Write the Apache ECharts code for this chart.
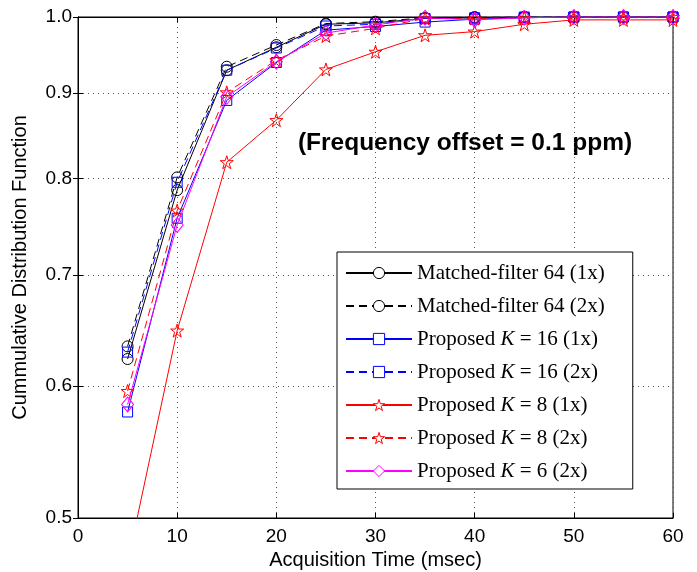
<!DOCTYPE html>
<html>
<head>
<meta charset="utf-8">
<script src="https://cdn.jsdelivr.net/npm/echarts@6/dist/echarts.min.js"></script>
<style>html,body{margin:0;padding:0;background:#fff}#c{width:697px;height:572px}</style>
</head>
<body>
<div id="c"></div>
<script>
var times = [5, 10, 15, 20, 25, 30, 35, 40, 45, 50, 55, 60];
var mf64_1x = [0.623, 0.787, 0.929, 0.959, 0.990, 0.992, 0.998, 0.999, 1.0, 1.0, 1.0, 1.0];
var mf64_2x = [0.634, 0.801, 0.9335, 0.962, 0.991, 0.9935, 0.999, 1.0, 1.0, 1.0, 1.0, 1.0];
var k16_1x = [0.579, 0.757, 0.891, 0.939, 0.982, 0.987, 0.993, 0.997, 0.999, 1.0, 1.0, 1.0];
var k16_2x = [0.629, 0.7956, 0.929, 0.958, 0.9876, 0.990, 0.998, 0.999, 1.0, 1.0, 1.0, 1.0];
var k8_1x = [0.47, 0.648, 0.818, 0.867, 0.930, 0.953, 0.975, 0.980, 0.990, 0.996, 0.996, 0.996];
var k8_2x = [0.596, 0.765, 0.901, 0.942, 0.974, 0.9845, 0.998, 0.998, 0.999, 1.0, 1.0, 1.0];
var k6_2x = [0.585, 0.750, 0.8955, 0.940, 0.978, 0.989, 0.999, 0.996, 0.999, 1.0, 1.0, 1.0];
var yTicks = [0.5, 0.6, 0.7, 0.8, 0.9, 1.0];
var xTicks = [0, 10, 20, 30, 40, 50, 60];
var seriesNames = ['Matched-filter 64 (1x)', 'Matched-filter 64 (2x)', 'Proposed K = 16 (1x)', 'Proposed K = 16 (2x)', 'Proposed K = 8 (1x)', 'Proposed K = 8 (2x)', 'Proposed K = 6 (2x)'];
var titleText = '(Frequency offset = 0.1 ppm)';

var STAR = 'path://M50,2 L61.2,36.6 L97.6,36.6 L68.2,58 L79.4,92.6 L50,71.2 L20.6,92.6 L31.8,58 L2.4,36.6 L38.8,36.6 Z';
function pairs(ys){ return times.map(function(t,i){ return [t, ys[i]]; }); }
var defs = [
  {d: mf64_1x, c:'#000000', dash:'solid', sym:'circle', size:11},
  {d: mf64_2x, c:'#000000', dash:[8,5], sym:'circle', size:11},
  {d: k16_1x, c:'#0000ff', dash:'solid', sym:'rect', size:10},
  {d: k16_2x, c:'#0000ff', dash:[8,5], sym:'rect', size:10},
  {d: k8_1x, c:'#ff0000', dash:'solid', sym:STAR, size:13},
  {d: k8_2x, c:'#ff0000', dash:[8,5], sym:STAR, size:13},
  {d: k6_2x, c:'#ff00ff', dash:'solid', sym:'diamond', size:[12,15]}
];
var series = defs.map(function(s, i){
  return {
    name: seriesNames[i], type:'line', data: pairs(s.d),
    symbol: s.sym, symbolSize: s.size, showSymbol:true,
    lineStyle:{color:s.c, width:1, type:s.dash},
    itemStyle:{color:'rgba(255,255,255,0)', borderColor:s.c, borderWidth:1},
    clip:true, animation:false, z: 2 + i
  };
});
var legendData = seriesNames.map(function(n, i){
  return {name:n, itemStyle:{color:'#ffffff', borderColor:defs[i].c, borderWidth:1}};
});
var FONT = 'Liberation Sans, Arial, Helvetica, sans-serif';
var SERIF = 'Liberation Serif, Times New Roman, serif';
var gridLine = {show:true, lineStyle:{color:'#555', width:1, type:[1,4]}};
var chart = echarts.init(document.getElementById('c'), null, {renderer:'canvas'});
chart.setOption({
  backgroundColor:'#fff',
  animation:false,
  grid:{left:78, right:24, top:17, bottom:54, show:true, borderColor:'#000', borderWidth:1, outerBoundsMode:'none'},
  xAxis:[{
    type:'value', min:0, max:60, interval:10,
    name:'Acquisition Time (msec)', nameLocation:'middle', nameGap:28,
    nameTextStyle:{fontFamily:FONT, fontSize:20, color:'#000'},
    axisLine:{show:true, lineStyle:{color:'#000', width:1}},
    axisTick:{show:true, inside:true, length:5, lineStyle:{color:'#000'}},
    axisLabel:{fontFamily:FONT, fontSize:19, color:'#000', margin:9, formatter:function(v){return String(v);}},
    splitLine:gridLine
  },{
    type:'value', min:0, max:60, interval:10, position:'top',
    axisLine:{show:true, lineStyle:{color:'#000'}},
    axisTick:{show:true, inside:true, length:5, lineStyle:{color:'#000'}},
    axisLabel:{show:false}, splitLine:{show:false}
  }],
  yAxis:[{
    type:'log', logBase:10, min:0.5, max:1.0,
    name:'Cummulative Distribution Function', nameLocation:'middle', nameGap:48,
    nameTextStyle:{fontFamily:FONT, fontSize:20, color:'#000'},
    axisLine:{show:true, lineStyle:{color:'#000', width:1}},
    axisTick:{show:true, inside:true, length:5, lineStyle:{color:'#000'}, customValues:yTicks},
    axisLabel:{fontFamily:FONT, fontSize:19, color:'#000', margin:6, customValues:yTicks,
      formatter:function(v){return (Math.round(v*10)/10).toFixed(1);}},
    splitLine:gridLine, minorTick:{show:false}, minorSplitLine:{show:false}
  },{
    type:'log', logBase:10, min:0.5, max:1.0, position:'right',
    axisLine:{show:true, lineStyle:{color:'#000'}},
    axisTick:{show:true, inside:true, length:5, lineStyle:{color:'#000'}, customValues:yTicks},
    axisLabel:{show:false, customValues:yTicks}, splitLine:{show:false}
  }],
  legend:{
    orient:'vertical', left:337, top:252,
    padding:[10,28,7,8], itemGap:11, itemWidth:66, itemHeight:14,
    backgroundColor:'#fff', borderColor:'#000', borderWidth:1, borderRadius:0,
    data: legendData,
    textStyle:{fontFamily:SERIF, fontSize:21, color:'#000', lineHeight:22,
      rich:{k:{fontFamily:SERIF, fontSize:21, fontStyle:'italic', color:'#000', lineHeight:22}}},
    formatter:function(n){ return n.replace('K', '{k|K}'); }
  },
  graphic:[{
    type:'text', x:465, y:143,
    style:{text:titleText, font:'bold 24.5px Liberation Sans, Arial, sans-serif', fill:'#000', align:'center', verticalAlign:'middle'}
  }],
  series: series
});
</script>
</body>
</html>
